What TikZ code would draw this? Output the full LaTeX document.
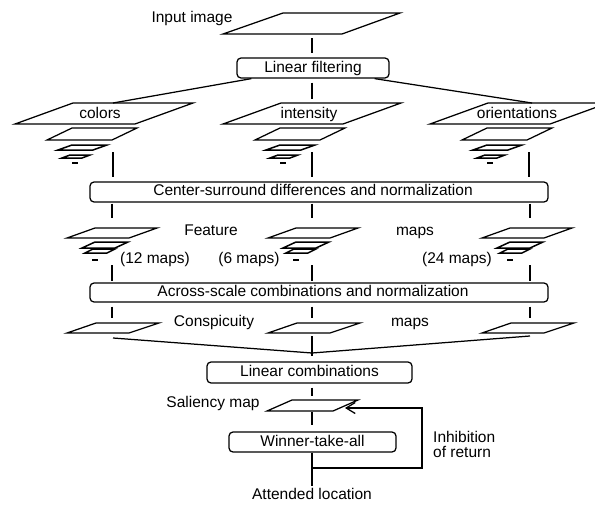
\documentclass[tikz,border=0pt]{standalone}
\usepackage{fontspec}
\setmainfont{Liberation Sans}
\usetikzlibrary{arrows.meta}
\newcommand\firststack[1]{%
  \begin{scope}[shift={(#1,124)}]
    \draw[para] (0,0)--(120,0)--(178,-21)--(58,-21)--cycle;
    \draw[para] (32,16)--(97,16)--(122,4)--(57,4)--cycle;
    \draw[para, line width=1.5pt] (43,26)--(78,26)--(92,21)--(57,21)--cycle;
    \draw[para, line width=1.5pt] (47,34)--(67,34)--(75,31)--(55,31)--cycle;
    \draw[para, line width=1.5pt] (57,39)--(63,39);
  \end{scope}}
\newcommand\featstack[1]{%
  \begin{scope}[shift={(#1,238)}]
    \draw[para] (0,0)--(62,0)--(90,-10)--(28,-10)--cycle;
    \draw[para, line width=1.5pt] (15,10)--(48,10)--(61,4)--(28,4)--cycle;
    \draw[para, line width=1.5pt] (18,15)--(40,15)--(48,11)--(26,11)--cycle;
    \draw[para, line width=1.5pt] (25,22)--(31,22);
  \end{scope}}
\newcommand\conspara[1]{%
  \begin{scope}[shift={(#1,333)}]
    \draw[para] (0,0)--(62,0)--(92,-10)--(29,-10)--cycle;
  \end{scope}}
\begin{document}
\begin{tikzpicture}[x=1pt,y=-1pt,
  para/.style={draw, line width=1.25pt, line join=miter},
  box/.style={draw, line width=1.25pt, rounded corners=4pt, inner sep=0pt},
  lbl/.style={inner sep=0pt, font=\fontsize{15.5}{17}\selectfont, text height=11pt, text depth=3pt},
  conn/.style={draw, line width=1.25pt},
  gap/.style={shorten <=4pt, shorten >=4pt}]
\useasboundingbox (0,0) rectangle (595,504);
\fill[white] (0,0) rectangle (595,504);

% input image
\draw[para] (223,34)--(342,34)--(400,13)--(283,13)--cycle;
\node[lbl] (inlbl) at (192,18) {Input image};
\coordinate (inB) at (312,34);

% linear filtering
\node[box, lbl, minimum width=152pt, minimum height=20pt] (lf) at (313,68) {Linear filtering};
\draw[conn, gap] (inB) -- (inB |- lf.north);

% first level stacks
\firststack{15}
\firststack{223}
\firststack{430}
\node[lbl] (colors) at (100,114) {colors};
\node[lbl] (intensity) at (309,114) {intensity};
\node[lbl] (orient) at (517,114) {orientations};
\coordinate (colT) at (113,103);
\coordinate (intT) at (312,103);
\coordinate (oriT) at (532,103);
\draw[conn] ([xshift=15pt]lf.south west) -- (colT);
\draw[conn, gap] (intT |- lf.south) -- (intT);
\draw[conn] ([xshift=-15pt]lf.south east) -- (oriT);

% center-surround
\node[box, minimum width=458pt, minimum height=20pt] (cs) at (319,192) {};
\node[lbl] (cstext) at (313,191) {Center-surround differences and normalization};
\coordinate (c1) at (113,152);
\coordinate (c2) at (312,152);
\coordinate (c3) at (529,152);
\draw[conn, shorten >=4pt] (c1) -- (c1 |- cs.north);
\draw[conn, shorten >=4pt] (c2) -- (c2 |- cs.north);
\draw[conn, shorten >=4pt] (c3) -- (c3 |- cs.north);

% feature maps
\featstack{67}
\featstack{268}
\featstack{482}
\coordinate (f1) at (112,218);
\coordinate (f2) at (312,218);
\coordinate (f3) at (530,218);
\draw[conn, shorten <=1pt] (f1 |- cs.south) -- (f1);
\draw[conn, shorten <=1pt] (f2 |- cs.south) -- (f2);
\draw[conn, shorten <=1pt] (f3 |- cs.south) -- (f3);
\node[lbl] (feat) at (211,231) {Feature};
\node[lbl] (fmaps) at (415,231) {maps};
\node[lbl] (m12) at (155,259) {(12 maps)};
\node[lbl] (m6) at (249,259) {(6 maps)};
\node[lbl] (m24) at (457,259) {(24 maps)};

% across-scale
\node[box, minimum width=458pt, minimum height=19pt] (as) at (319,292.5) {};
\node[lbl] (astext) at (313,292) {Across-scale combinations and normalization};
\coordinate (g1) at (112,265);
\coordinate (g2) at (312,265);
\coordinate (g3) at (530,265);
\draw[conn, shorten >=1pt] (g1) -- (g1 |- as.north);
\draw[conn, shorten >=1pt] (g2) -- (g2 |- as.north);
\draw[conn, shorten >=1pt] (g3) -- (g3 |- as.north);

% conspicuity maps
\conspara{67}
\conspara{268}
\conspara{482}
\coordinate (h1) at (112,318);
\coordinate (h2) at (312,318);
\coordinate (h3) at (530,318);
\draw[conn, shorten <=4pt] (h1 |- as.south) -- (h1);
\draw[conn, shorten <=4pt] (h2 |- as.south) -- (h2);
\draw[conn, shorten <=4pt] (h3 |- as.south) -- (h3);
\node[lbl] (consp) at (214,322) {Conspicuity};
\node[lbl] (cmaps) at (410,322) {maps};

% convergence
\coordinate (k1) at (113,338);
\coordinate (k2) at (312,336);
\coordinate (k3) at (530,336);
\coordinate (conv) at (312,353);
\node[box, lbl, minimum width=205pt, minimum height=21pt] (lc) at (309.5,372.5) {Linear combinations};
\draw[conn] (k1) -- (conv);
\draw[conn] (k3) -- (conv);
\draw[conn, shorten >=5pt] (k2) -- (conv |- lc.north);

% saliency
\draw[para] (267,411)--(333,411)--(358,400)--(292,400)--cycle;
\node[lbl] (sal) at (213,403) {Saliency map};
\coordinate (salT) at (312,400);
\coordinate (salB) at (312,411);
\draw[conn, gap] (salT |- lc.south) -- (salT);

% winner-take-all
\node[box, lbl, minimum width=167pt, minimum height=20pt] (wta) at (312.5,442) {Winner-take-all};
\draw[conn, shorten <=1pt, shorten >=6pt] (salB) -- (salB |- wta.north);
\node[lbl] (att) at (312,495) {Attended location};
\draw[conn, shorten >=2pt] (salB |- wta.south) -- (att.north);

% inhibition of return
\coordinate (fb) at (312,468);
\coordinate (fbR) at (422,468);
\coordinate (fbT) at (422,408);
\coordinate (tip) at (345,408);
\draw[conn, -{Straight Barb[length=9pt,width=11pt,line width=1.25pt]}] (fb) -- (fbR) -- (fbT) -- (tip);
\node[lbl, anchor=west, align=left, text height=, text depth=] (inh) at (433,444.5) {Inhibition\\[-2pt]of return};
\end{tikzpicture}
\end{document}
